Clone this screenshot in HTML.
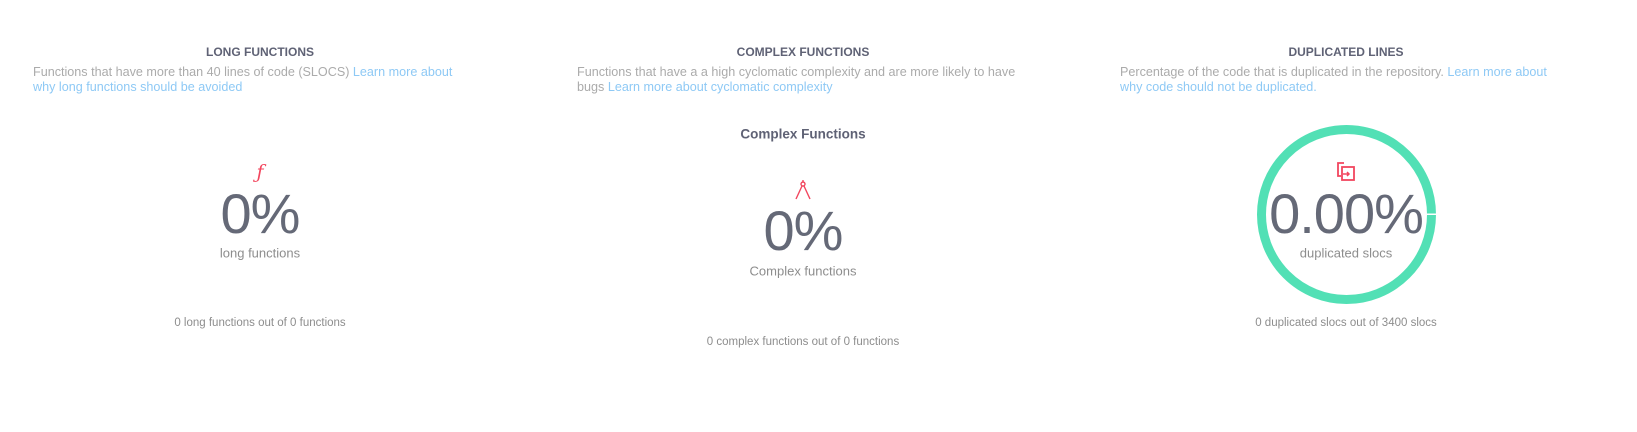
<!DOCTYPE html>
<html><head><meta charset="utf-8"><style>
html,body{margin:0;padding:0;background:#fff;width:1637px;height:432px;overflow:hidden;font-family:"Liberation Sans",Arial,sans-serif}
.c{position:absolute;transform:translate(-50%,-50%);white-space:nowrap;text-align:center}
.h{font-size:12px;font-weight:bold;color:#5f6275}
.d{position:absolute;font-size:12.6px;line-height:15px;color:#ababab;white-space:nowrap}
.d a{color:#8ec9f5;text-decoration:none}
.big{font-size:56px;color:#656977;line-height:1;letter-spacing:-1px}
.lab{font-size:13px;color:#8d8d8d}
.bot{font-size:11.5px;color:#8d8d8d}
</style></head><body>

<div class="c h" style="left:260px;top:52px">LONG FUNCTIONS</div>
<div class="d" style="left:33px;top:65px">Functions that have more than 40 lines of code (SLOCS) <a>Learn more about</a><br><a>why long functions should be avoided</a></div>
<div class="c" style="left:260px;top:172px;color:#f2465e;font-size:19px;font-style:italic;font-family:'DejaVu Serif',serif">ƒ</div>
<div class="c big" style="left:260px;top:214px">0%</div>
<div class="c lab" style="left:260px;top:253px">long functions</div>
<div class="c bot" style="left:260px;top:323px">0 long functions out of 0 functions</div>

<div class="c h" style="left:803px;top:52px">COMPLEX FUNCTIONS</div>
<div class="d" style="left:577px;top:65px">Functions that have a a high cyclomatic complexity and are more likely to have<br>bugs <a>Learn more about cyclomatic complexity</a></div>
<div class="c" style="left:803px;top:134px;font-size:13.5px;font-weight:bold;color:#5f6275">Complex Functions</div>
<svg style="position:absolute;left:793px;top:179px" width="20" height="22" viewBox="0 0 20 22"><circle cx="10" cy="5" r="2" fill="none" stroke="#f2465e" stroke-width="1.4"/><path d="M10 1V3M9 7L3 20M11 7L17 20" stroke="#f2465e" stroke-width="1.4" fill="none"/></svg>
<div class="c big" style="left:803px;top:231px">0%</div>
<div class="c lab" style="left:803px;top:271px">Complex functions</div>
<div class="c bot" style="left:803px;top:342px">0 complex functions out of 0 functions</div>

<div class="c h" style="left:1346px;top:52px">DUPLICATED LINES</div>
<div class="d" style="left:1120px;top:65px">Percentage of the code that is duplicated in the repository. <a>Learn more about</a><br><a>why code should not be duplicated.</a></div>
<svg style="position:absolute;left:1252px;top:120px" width="190" height="190" viewBox="0 0 190 190"><circle cx="94.5" cy="94.5" r="85" fill="none" stroke="#52e0b5" stroke-width="9"/><rect x="175" y="93.5" width="12" height="1.5" fill="#fff"/></svg>
<svg style="position:absolute;left:1335px;top:160px" width="24" height="24" viewBox="0 0 24 24"><path d="M9 3H3V16H6" stroke="#f2465e" stroke-width="1.8" fill="none"/><rect x="7" y="7" width="12" height="13" stroke="#f2465e" stroke-width="1.8" fill="none"/><path d="M8 14H14M12 12L14 14L12 16" stroke="#f2465e" stroke-width="1.5" fill="none"/></svg>
<div class="c big" style="left:1346px;top:214px">0.00%</div>
<div class="c lab" style="left:1346px;top:253px">duplicated slocs</div>
<div class="c bot" style="left:1346px;top:323px">0 duplicated slocs out of 3400 slocs</div>

</body></html>
